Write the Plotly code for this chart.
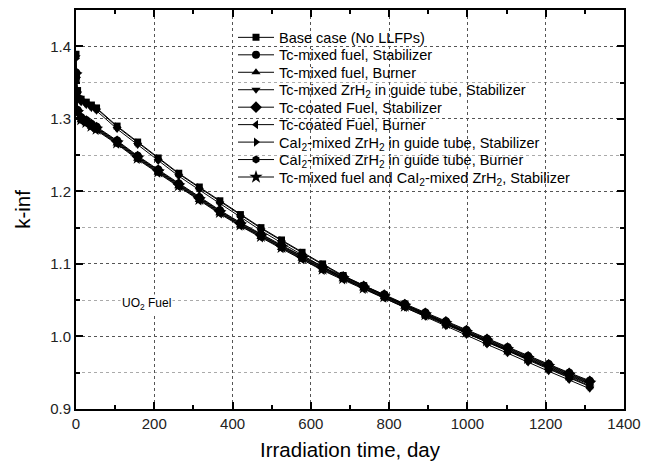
import plotly.graph_objects as go

# Irradiation time (days)
time_days = [0, 1, 4, 13.1, 26.3, 39.4, 52.5, 105, 157.5, 210, 262.5, 315, 367.5, 420,
             472.5, 525, 577.5, 630, 682.5, 735, 787.5, 840, 892.5, 945, 997.5, 1050,
             1102.5, 1155, 1207.5, 1260, 1312.5]

base_case = [1.389, 1.359, 1.339, 1.327, 1.323, 1.319, 1.315, 1.290, 1.268, 1.246, 1.225, 1.206,
             1.187, 1.168, 1.150, 1.133, 1.116, 1.100, 1.084, 1.070, 1.057, 1.044, 1.031, 1.018,
             1.006, 0.993, 0.981, 0.968, 0.956, 0.944, 0.932]
tc_fuel_stab = [1.364, 1.332, 1.312, 1.302, 1.298, 1.293, 1.289, 1.270, 1.249, 1.230, 1.211, 1.192,
                1.174, 1.157, 1.141, 1.126, 1.111, 1.096, 1.083, 1.070, 1.058, 1.045, 1.033, 1.021,
                1.009, 0.997, 0.985, 0.973, 0.962, 0.950, 0.939]
tc_fuel_burn = [1.360, 1.328, 1.308, 1.298, 1.294, 1.289, 1.285, 1.266, 1.245, 1.226, 1.207, 1.188,
                1.170, 1.153, 1.137, 1.122, 1.107, 1.092, 1.079, 1.066, 1.054, 1.041, 1.029, 1.017,
                1.005, 0.993, 0.981, 0.969, 0.958, 0.946, 0.935]
tc_zrh_stab = [1.385, 1.355, 1.335, 1.323, 1.319, 1.315, 1.311, 1.286, 1.264, 1.242, 1.221, 1.202,
               1.183, 1.164, 1.146, 1.129, 1.112, 1.096, 1.080, 1.066, 1.053, 1.040, 1.027, 1.014,
               1.002, 0.989, 0.977, 0.964, 0.952, 0.940, 0.928]
tc_coat_stab = [1.363, 1.331, 1.311, 1.301, 1.297, 1.292, 1.288, 1.269, 1.248, 1.229, 1.210, 1.191,
                1.173, 1.156, 1.140, 1.125, 1.110, 1.095, 1.082, 1.069, 1.057, 1.044, 1.032, 1.020,
                1.008, 0.996, 0.984, 0.972, 0.961, 0.949, 0.938]
tc_coat_burn = [1.359, 1.327, 1.307, 1.297, 1.293, 1.288, 1.284, 1.265, 1.244, 1.225, 1.206, 1.187,
                1.169, 1.152, 1.136, 1.121, 1.106, 1.091, 1.078, 1.065, 1.053, 1.040, 1.028, 1.016,
                1.004, 0.992, 0.980, 0.968, 0.957, 0.945, 0.934]
cai_zrh_stab = [1.383, 1.352, 1.336, 1.326, 1.322, 1.318, 1.314, 1.289, 1.267, 1.245, 1.224, 1.205,
                1.186, 1.167, 1.149, 1.132, 1.115, 1.099, 1.083, 1.069, 1.056, 1.043, 1.030, 1.017,
                1.005, 0.992, 0.980, 0.967, 0.955, 0.943, 0.931]
cai_zrh_burn = [1.362, 1.330, 1.310, 1.300, 1.296, 1.291, 1.287, 1.268, 1.247, 1.228, 1.209, 1.190,
                1.172, 1.155, 1.139, 1.124, 1.109, 1.094, 1.081, 1.068, 1.056, 1.043, 1.031, 1.019,
                1.007, 0.995, 0.983, 0.971, 0.960, 0.948, 0.937]
tc_cai_stab = [1.361, 1.329, 1.309, 1.299, 1.295, 1.290, 1.286, 1.267, 1.246, 1.227, 1.208, 1.189,
               1.171, 1.154, 1.138, 1.123, 1.108, 1.093, 1.080, 1.067, 1.055, 1.042, 1.030, 1.018,
               1.006, 0.994, 0.982, 0.970, 0.959, 0.947, 0.936]

series_names = [
    "Base case (No LLFPs)",
    "Tc-mixed fuel, Stabilizer",
    "Tc-mixed fuel, Burner",
    "Tc-mixed ZrH<sub>2</sub> in guide tube, Stabilizer",
    "Tc-coated Fuel, Stabilizer",
    "Tc-coated Fuel, Burner",
    "CaI<sub>2</sub>-mixed ZrH<sub>2</sub> in guide tube, Stabilizer",
    "CaI<sub>2</sub>-mixed ZrH<sub>2</sub> in guide tube, Burner",
    "Tc-mixed fuel and CaI<sub>2</sub>-mixed ZrH<sub>2</sub>, Stabilizer",
]
series_values = [base_case, tc_fuel_stab, tc_fuel_burn, tc_zrh_stab, tc_coat_stab,
                 tc_coat_burn, cai_zrh_stab, cai_zrh_burn, tc_cai_stab]
symbols = ["square", "circle", "triangle-up", "triangle-down", "diamond",
           "triangle-left", "triangle-right", "hexagon", "star"]
sizes = [7, 8, 8, 8, 9, 8, 8, 8, 10]

x_ticks = [0, 200, 400, 600, 800, 1000, 1200, 1400]
y_ticks = [0.9, 1.0, 1.1, 1.2, 1.3, 1.4]

FONT = "Liberation Sans, Arial, sans-serif"

# plot area geometry (pixels) used for legend placement
PLOT_TOP, PLOT_H = 8, 400
LEG_FIRST_CENTER, LEG_STEP = 35.5, 17.5

fig = go.Figure()
legend_layouts = {}
for i, (name, vals, sym, sz) in enumerate(zip(series_names, series_values, symbols, sizes)):
    leg_id = "legend" if i == 0 else f"legend{i + 1}"
    fig.add_trace(go.Scatter(
        x=time_days, y=vals, name=name, mode="lines+markers",
        line=dict(color="black", width=1),
        marker=dict(symbol=sym, size=sz, color="black", line=dict(width=0)),
        legend=leg_id,
    ))
    center_px = LEG_FIRST_CENTER + LEG_STEP * i
    legend_layouts[leg_id] = dict(
        x=0.2865, y=1 - (center_px - PLOT_TOP) / PLOT_H, xanchor="left", yanchor="middle",
        bgcolor="rgba(0,0,0,0)", borderwidth=0, itemwidth=36,
        font=dict(family=FONT, size=14.5, color="black"),
    )

fig.add_annotation(x=179, y=1.045, xref="x", yref="y", text="UO<sub>2</sub> Fuel",
                   showarrow=False, bgcolor="white", font=dict(family=FONT, size=12, color="black"))

# white background behind the legend block (hides the grid there)
fig.add_shape(type="rect", xref="paper", yref="paper", x0=0.285, x1=0.997, y0=0.553, y1=0.997,
              fillcolor="white", line=dict(width=0), layer="between")

axis_common = dict(
    showline=True, linecolor="black", linewidth=2, mirror="ticks",
    ticks="inside", ticklen=7, tickwidth=2, tickcolor="black",
    showgrid=True, gridcolor="#555555", griddash="dot", gridwidth=1,
    zeroline=False, tickfont=dict(family=FONT, size=15, color="#222222"),
)

fig.update_xaxes(
    range=[0, 1400], tickvals=x_ticks, ticktext=[str(v) for v in x_ticks],
    title=dict(text="Irradiation time, day", font=dict(family=FONT, size=20.5, color="black"), standoff=12),
    minor=dict(tickvals=[100, 300, 500, 700, 900, 1100, 1300], ticks="inside", ticklen=4,
               tickwidth=1.5, tickcolor="black", showgrid=False),
    **axis_common,
)
fig.update_yaxes(
    range=[0.9, 1.45], tickvals=y_ticks, ticktext=[f"{v:.1f}" for v in y_ticks],
    title=dict(text="k-inf", font=dict(family=FONT, size=20.5, color="black"), standoff=14),
    minor=dict(tickvals=[0.95, 1.05, 1.15, 1.25, 1.35, 1.45], ticks="inside", ticklen=4,
               tickwidth=1.5, tickcolor="black", showgrid=True, gridcolor="#aaaaaa",
               griddash="dot", gridwidth=1),
    **axis_common,
)

fig.update_layout(
    width=660, height=467,
    margin=dict(l=76, r=36, t=8, b=58),
    paper_bgcolor="white", plot_bgcolor="white",
    font=dict(family=FONT, color="black"),
    showlegend=True,
    **legend_layouts,
)

fig.write_html("out.html")
